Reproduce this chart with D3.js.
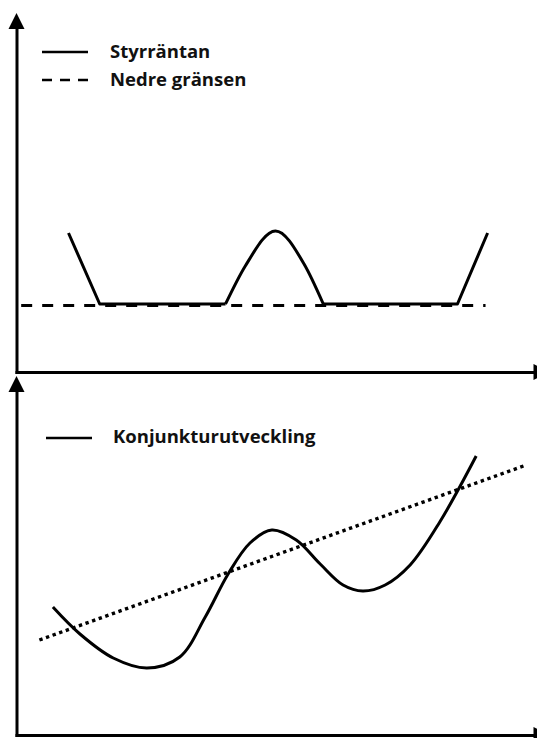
<!DOCTYPE html>
<html>
<head>
<meta charset="utf-8">
<script src="https://cdn.jsdelivr.net/npm/d3@7"></script>
<style>
  html, body { margin: 0; padding: 0; background: #fff; }
  svg { display: block; }
  text { font-family: "Open Sans", "DejaVu Sans", sans-serif; font-weight: 700; fill: #111; }
</style>
</head>
<body>
<svg id="chart" width="537" height="738"></svg>
<script>
// ---------- DATA ----------
const legendTop = ["Styrräntan", "Nedre gränsen"];
const legendBottom = ["Konjunkturutveckling"];

// Top panel: policy rate (x = time, y = level)
const rateFallX = [10, 16, 40.2];
const rateFallY = [6.95, 3.4, 3.4];
const rateHumpX = [40.2, 44, 49.8, 55.3, 59];
const rateHumpY = [3.4, 5.3, 7.05, 5.4, 3.4];
const rateRiseX = [59, 84.8, 90.6];
const rateRiseY = [3.4, 3.4, 6.95];

// Top panel: lower bound
const floorX = [0.9, 90.2];
const floorY = [3.32, 3.32];

// Bottom panel: business cycle
const cycleX = [7.0, 12.2, 18.6, 25.1, 31.4, 36.3, 40.7, 44.9, 49.1, 53.8, 58.4, 62.8, 66.6, 70.9, 75.7, 81.4, 88.4];
const cycleY = [6.4, 5.05, 3.85, 3.35, 3.9, 5.9, 8.05, 9.6, 10.25, 9.75, 8.55, 7.5, 7.2, 7.5, 8.5, 10.65, 13.95];

// Bottom panel: trend
const trendX = [4.4, 97.5];
const trendY = [4.75, 13.45];

// ---------- LAYOUT ----------
const svg = d3.select("#chart");
const x = d3.scaleLinear().domain([0, 100]).range([16.5, 536.5]);
const yTop = d3.scaleLinear().domain([0, 17.2]).range([372, 28]);
const yBot = d3.scaleLinear().domain([0, 17.2]).range([735, 391]);

const zip = (xs, ys) => xs.map((v, i) => [v, ys[i]]);

function axes(y) {
  const g = svg.append("g");
  g.append("g").attr("transform", `translate(${x(0)},0)`)
    .call(d3.axisLeft(y).tickValues([]).tickSizeOuter(0));
  g.append("g").attr("transform", `translate(0,${y(0)})`)
    .call(d3.axisBottom(x).tickValues([]).tickSizeOuter(0));
  g.selectAll(".domain").attr("stroke", "#000").attr("stroke-width", 3).attr("stroke-linecap", "square");
  const top = y.range()[1];
  g.append("path")
    .attr("d", `M${x(0) - 8},${top + 1} L${x(0) + 8},${top + 1} L${x(0)},${top - 15} Z`)
    .attr("fill", "#000");
  const r = x.range()[1] - 3;
  g.append("path")
    .attr("d", `M${r},${y(0) - 8} L${r},${y(0) + 8} L${r + 16},${y(0)} Z`)
    .attr("fill", "#000");
}
axes(yTop);
axes(yBot);

const lineTop = d3.line().x(d => x(d[0])).y(d => yTop(d[1]));
const lineBot = d3.line().x(d => x(d[0])).y(d => yBot(d[1]));

// lower bound (dashed)
svg.append("path").attr("d", lineTop(zip(floorX, floorY)))
  .attr("fill", "none").attr("stroke", "#000").attr("stroke-width", 3)
  .attr("stroke-dasharray", "11,10");

// policy rate
[[rateFallX, rateFallY, d3.curveLinear], [rateHumpX, rateHumpY, d3.curveMonotoneX], [rateRiseX, rateRiseY, d3.curveLinear]]
  .forEach(([xs, ys, c]) => {
    svg.append("path").attr("d", lineTop.curve(c)(zip(xs, ys)))
      .attr("fill", "none").attr("stroke", "#000").attr("stroke-width", 3)
      .attr("stroke-linejoin", "round");
  });

// trend (dotted)
svg.append("path").attr("d", lineBot.curve(d3.curveLinear)(zip(trendX, trendY)))
  .attr("fill", "none").attr("stroke", "#000").attr("stroke-width", 3.4)
  .attr("stroke-dasharray", "3.4,3.6");

// business cycle
svg.append("path").attr("d", lineBot.curve(d3.curveCatmullRom.alpha(0.5))(zip(cycleX, cycleY)))
  .attr("fill", "none").attr("stroke", "#000").attr("stroke-width", 3);

// ---------- LEGENDS ----------
const lt = svg.append("g");
lt.append("line").attr("x1", 42).attr("x2", 88).attr("y1", 52).attr("y2", 52)
  .attr("stroke", "#000").attr("stroke-width", 2.5);
lt.append("line").attr("x1", 42).attr("x2", 88).attr("y1", 80).attr("y2", 80)
  .attr("stroke", "#000").attr("stroke-width", 2.5).attr("stroke-dasharray", "10,8");
lt.selectAll("text").data(legendTop).join("text")
  .attr("x", 110).attr("y", (d, i) => 58 + i * 27.5)
  .attr("font-size", 18.5).text(d => d);

const lb = svg.append("g");
lb.append("line").attr("x1", 46).attr("x2", 92).attr("y1", 438).attr("y2", 438)
  .attr("stroke", "#000").attr("stroke-width", 2.5);
lb.selectAll("text").data(legendBottom).join("text")
  .attr("x", 113).attr("y", 443).attr("font-size", 18.5).text(d => d);
</script>
</body>
</html>
